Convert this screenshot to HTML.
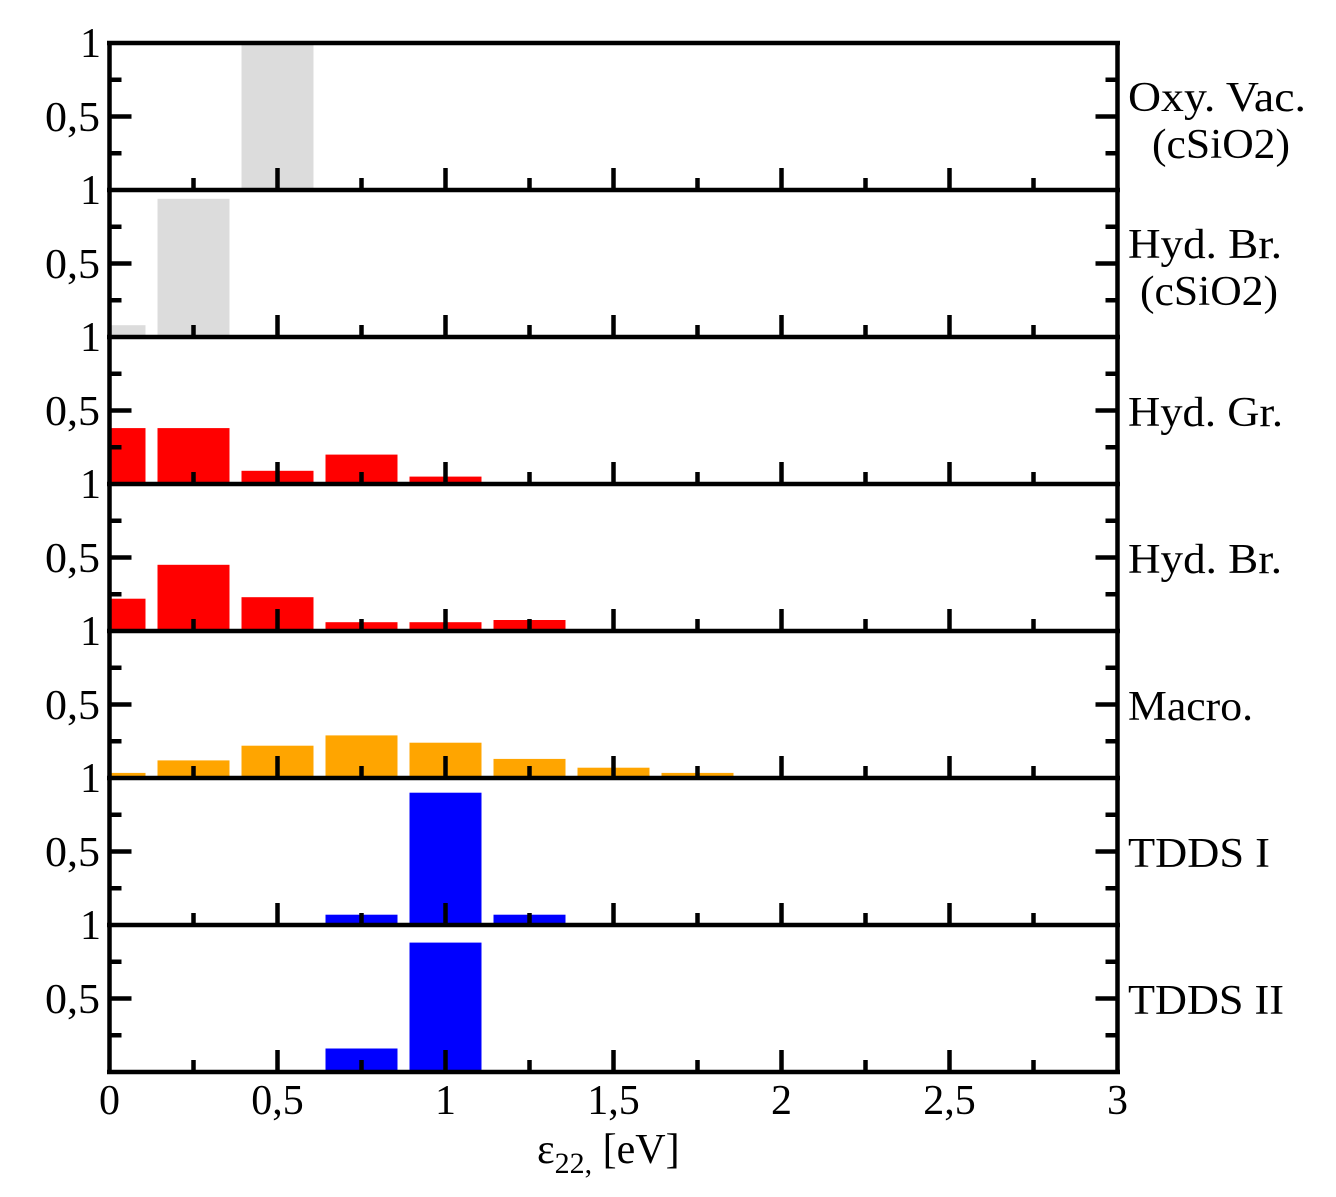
<!DOCTYPE html>
<html><head><meta charset="utf-8"><style>
html,body{margin:0;padding:0;background:#fff;}
</style></head><body>
<svg width="1336" height="1192" viewBox="0 0 1336 1192" xmlns="http://www.w3.org/2000/svg" font-family="'Liberation Serif', 'DejaVu Serif', serif" font-size="42">
<defs>
<path id="tk" fill="none" stroke="#000" stroke-width="4.5" d="M109.5 110.25H121.5M109.5 73.5H131.5M109.5 36.75H121.5M1117.5 110.25H1105.5M1117.5 73.5H1095.5M1117.5 36.75H1105.5M193.5 147V135M277.5 147V125M361.5 147V135M445.5 147V125M529.5 147V135M613.5 147V125M697.5 147V135M781.5 147V125M865.5 147V135M949.5 147V125M1033.5 147V135M107 147H1120"/>
</defs>
<g fill="#dcdcdc">
<rect x="241.5" y="43" width="72" height="147"/>
<rect x="109.5" y="325.2" width="36" height="11.8"/>
<rect x="157.5" y="198.8" width="72" height="138.2"/>
</g>
<g fill="#ff0000">
<rect x="109.5" y="428.1" width="36" height="55.9"/>
<rect x="157.5" y="428.1" width="72" height="55.9"/>
<rect x="241.5" y="470.8" width="72" height="13.2"/>
<rect x="325.5" y="454.6" width="72" height="29.4"/>
<rect x="409.5" y="476.6" width="72" height="7.4"/>
<rect x="109.5" y="598.7" width="36" height="32.3"/>
<rect x="157.5" y="564.8" width="72" height="66.2"/>
<rect x="241.5" y="597.2" width="72" height="33.8"/>
<rect x="325.5" y="622.2" width="72" height="8.8"/>
<rect x="409.5" y="622.2" width="72" height="8.8"/>
<rect x="493.5" y="620" width="72" height="11"/>
</g>
<g fill="#ffa500">
<rect x="109.5" y="772.9" width="36" height="5.1"/>
<rect x="157.5" y="760.4" width="72" height="17.6"/>
<rect x="241.5" y="745.7" width="72" height="32.3"/>
<rect x="325.5" y="735.4" width="72" height="42.6"/>
<rect x="409.5" y="742.7" width="72" height="35.3"/>
<rect x="493.5" y="758.9" width="72" height="19.1"/>
<rect x="577.5" y="767.7" width="72" height="10.3"/>
<rect x="661.5" y="772.9" width="72" height="5.1"/>
<rect x="745.5" y="776.5" width="72" height="1.5"/>
</g>
<g fill="#0000ff">
<rect x="325.5" y="914.7" width="72" height="10.3"/>
<rect x="409.5" y="792.7" width="72" height="132.3"/>
<rect x="493.5" y="914.7" width="72" height="10.3"/>
<rect x="325.5" y="1048.5" width="72" height="23.5"/>
<rect x="409.5" y="942.6" width="72" height="129.4"/>
</g>
<use href="#tk" y="43"/>
<use href="#tk" y="190"/>
<use href="#tk" y="337"/>
<use href="#tk" y="484"/>
<use href="#tk" y="631"/>
<use href="#tk" y="778"/>
<use href="#tk" y="925"/>
<path fill="none" stroke="#000" stroke-width="4.5" d="M107 43H1120M109.5 43V1074M1117.5 43V1074"/>
<g text-anchor="end">
<text x="101" y="57">1</text><text x="101" y="204">1</text><text x="101" y="351">1</text>
<text x="101" y="498">1</text><text x="101" y="645">1</text><text x="101" y="792">1</text><text x="101" y="939">1</text>
</g>
<g>
<text x="45" y="131" textLength="55" lengthAdjust="spacingAndGlyphs">0,5</text>
<text x="45" y="278" textLength="55" lengthAdjust="spacingAndGlyphs">0,5</text>
<text x="45" y="425" textLength="55" lengthAdjust="spacingAndGlyphs">0,5</text>
<text x="45" y="572" textLength="55" lengthAdjust="spacingAndGlyphs">0,5</text>
<text x="45" y="719" textLength="55" lengthAdjust="spacingAndGlyphs">0,5</text>
<text x="45" y="866" textLength="55" lengthAdjust="spacingAndGlyphs">0,5</text>
<text x="45" y="1013" textLength="55" lengthAdjust="spacingAndGlyphs">0,5</text>
</g>
<text x="1128" y="111" textLength="178" lengthAdjust="spacingAndGlyphs">Oxy. Vac.</text>
<text x="1152" y="158" textLength="138" lengthAdjust="spacingAndGlyphs">(cSiO2)</text>
<text x="1128" y="258" textLength="154" lengthAdjust="spacingAndGlyphs">Hyd. Br.</text>
<text x="1140" y="305" textLength="138" lengthAdjust="spacingAndGlyphs">(cSiO2)</text>
<text x="1128" y="426" textLength="155" lengthAdjust="spacingAndGlyphs">Hyd. Gr.</text>
<text x="1128" y="573" textLength="154" lengthAdjust="spacingAndGlyphs">Hyd. Br.</text>
<text x="1128" y="720" textLength="125" lengthAdjust="spacingAndGlyphs">Macro.</text>
<text x="1128" y="867" textLength="142" lengthAdjust="spacingAndGlyphs">TDDS I</text>
<text x="1128" y="1014" textLength="156" lengthAdjust="spacingAndGlyphs">TDDS II</text>
<g text-anchor="middle">
<text x="109.5" y="1114">0</text><text x="277.5" y="1114">0,5</text><text x="445.5" y="1114">1</text>
<text x="613.5" y="1114">1,5</text><text x="781.5" y="1114">2</text><text x="949.5" y="1114">2,5</text><text x="1117.5" y="1114">3</text>
</g>
<text x="537" y="1163" font-size="42">ε<tspan font-size="30" dy="10">22,</tspan><tspan dy="-10"> [eV]</tspan></text>
</svg>
</body></html>
